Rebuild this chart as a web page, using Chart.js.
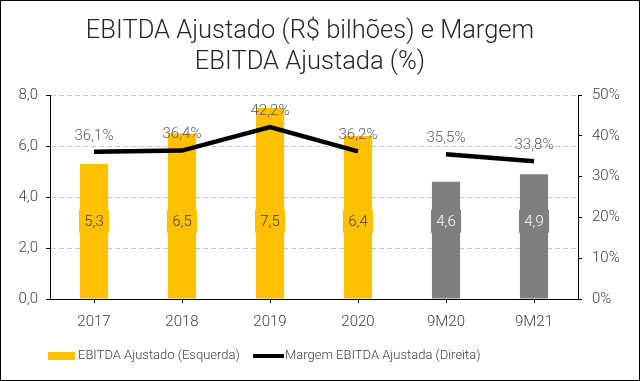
<!DOCTYPE html>
<html>
<head>
<meta charset="utf-8">
<script src="https://cdn.jsdelivr.net/npm/chart.js@4.4.0/dist/chart.umd.min.js"></script>
<style>
  html, body { margin: 0; padding: 0; background: #fff; }
  #wrap { width: 640px; height: 381px; border: 1px solid #000; box-sizing: border-box; }
  canvas { display: block; }
</style>
</head>
<body>
<div id="wrap"><canvas id="chart" width="638" height="379"></canvas></div>
<script>
// data
const categories = ['2017', '2018', '2019', '2020', '9M20', '9M21'];
const ebitda = [5.3, 6.5, 7.5, 6.4, 4.6, 4.9];          // R$ bilhões
const margem = [36.1, 36.4, 42.2, 36.2, 35.5, 33.8];    // %
const barColors = ['#FFC000', '#FFC000', '#FFC000', '#FFC000', '#7F7F7F', '#7F7F7F'];
const barLabelColors = ['#404040', '#404040', '#404040', '#404040', '#FFFFFF', '#FFFFFF'];
const titleLines = ['EBITDA Ajustado (R$ bilhões) e Margem', 'EBITDA Ajustada (%)'];

const FONT = 'Roboto';
const fmt = v => v.toFixed(1).replace('.', ',');

// labels on bars and above line points
const valueLabels = {
  id: 'valueLabels',
  afterDatasetsDraw(chart) {
    const ctx = chart.ctx;
    const y = chart.scales.y;
    ctx.save();
    ctx.font = '300 15px ' + FONT;
    ctx.textAlign = 'center';
    ctx.textBaseline = 'middle';

    chart.getDatasetMeta(0).data.forEach((bar, i) => {
      const txt = fmt(ebitda[i]);
      const w = Math.max(bar.width + 2, ctx.measureText(txt).width + 8);
      const cy = y.getPixelForValue(3.05);
      ctx.fillStyle = barColors[i];
      ctx.fillRect(bar.x - w / 2, cy - 11.5, w, 23);
      ctx.fillStyle = barLabelColors[i];
      ctx.fillText(txt, bar.x, cy + 1);
    });

    ctx.fillStyle = '#595959';
    chart.getDatasetMeta(1).data.forEach((pt, i) => {
      ctx.fillText(fmt(margem[i]) + '%', pt.x, pt.y - 16);
    });
    ctx.restore();
  }
};

// legend at the bottom
const bottomLegend = {
  id: 'bottomLegend',
  afterDraw(chart) {
    const ctx = chart.ctx;
    const ly = chart.height - 24;
    ctx.save();
    ctx.font = '300 13px ' + FONT;
    ctx.textBaseline = 'middle';
    ctx.fillStyle = '#FFC000';
    ctx.fillRect(47, ly - 4, 27, 8);
    ctx.fillStyle = '#404040';
    ctx.fillText(chart.data.datasets[0].label, 77, ly);
    ctx.strokeStyle = '#000';
    ctx.lineWidth = 4;
    ctx.beginPath();
    ctx.moveTo(252, ly);
    ctx.lineTo(283, ly);
    ctx.stroke();
    ctx.fillText(chart.data.datasets[1].label, 284, ly);
    ctx.restore();
  }
};

new Chart(document.getElementById('chart'), {
  data: {
    labels: categories,
    datasets: [
      {
        type: 'bar',
        label: 'EBITDA Ajustado (Esquerda)',
        data: ebitda,
        yAxisID: 'y',
        backgroundColor: barColors,
        barPercentage: 0.32,
        categoryPercentage: 1,
        order: 1
      },
      {
        type: 'line',
        label: 'Margem EBITDA Ajustada (Direita)',
        data: margem,
        yAxisID: 'y2',
        borderColor: '#000',
        borderWidth: 4.5,
        pointRadius: 0,
        tension: 0,
        order: 0,
        segment: {
          borderColor: c => c.p0DataIndex === 3 ? 'transparent' : '#000'
        }
      }
    ]
  },
  options: {
    responsive: false,
    animation: false,
    layout: { padding: { left: 0, right: 20, top: 0, bottom: 39 } },
    plugins: {
      legend: { display: false },
      tooltip: { enabled: false },
      title: {
        display: true,
        text: titleLines,
        color: '#262626',
        font: { family: FONT, size: 25.5, weight: '300', lineHeight: 1.18 },
        padding: { top: 16, bottom: 18 }
      }
    },
    scales: {
      x: {
        offset: true,
        grid: { display: true, drawOnChartArea: false, offset: false, tickLength: 4, tickColor: '#000' },
        border: { color: '#000', width: 1 },
        ticks: { color: '#404040', padding: 10, font: { family: FONT, size: 15, weight: '300' } }
      },
      y: {
        position: 'left',
        min: 0, max: 8,
        afterFit: s => { s.width = 49; },
        ticks: { stepSize: 2, color: '#404040', padding: 8, callback: v => fmt(v), font: { family: FONT, size: 15, weight: '300' } },
        grid: { color: '#C8C8C8', tickLength: 4, tickColor: '#000', tickBorderDash: [] },
        border: { color: '#000', width: 1, dash: [5, 3] }
      },
      y2: {
        position: 'right',
        min: 0, max: 50,
        afterFit: s => { s.width = 41; },
        ticks: { stepSize: 10, color: '#404040', padding: 10, callback: v => v + '%', font: { family: FONT, size: 15, weight: '300' } },
        grid: { drawOnChartArea: false, tickLength: 4, tickColor: '#000' },
        border: { color: '#000', width: 1 }
      }
    }
  },
  plugins: [valueLabels, bottomLegend]
});
</script>
</body>
</html>
